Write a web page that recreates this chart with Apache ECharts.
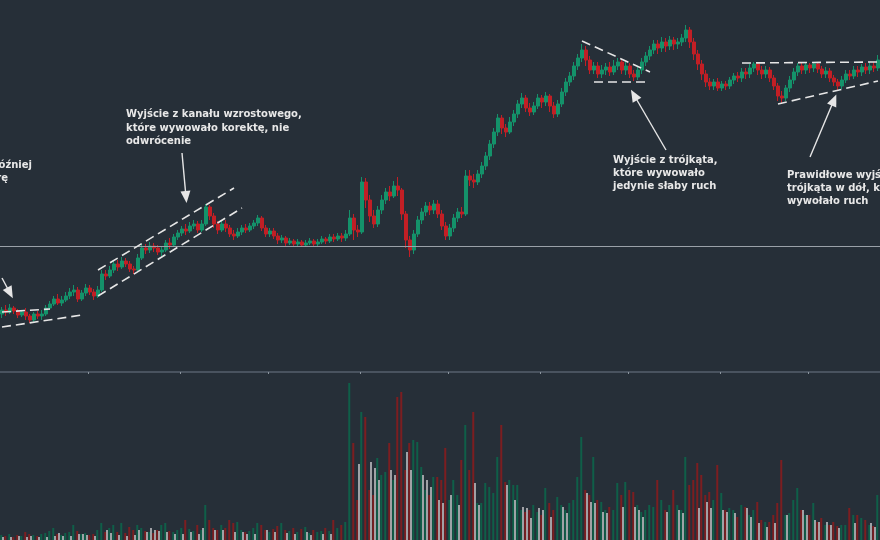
<!DOCTYPE html>
<html>
<head>
<meta charset="utf-8">
<script src="https://cdn.jsdelivr.net/npm/echarts@6/dist/echarts.min.js"></script>
<style>html,body{margin:0;padding:0;background:#262f38;}#c{width:880px;height:540px;}</style>
</head>
<body>
<div id="c"></div>
<script>
// candles: [open, close, low, high]
const ohlc = [
[86,90,82,93],[90,88,84,95],[88,92,86,96],[92,89,86,94],[89,85,82,91],[85,88,83,90],[88,84,80,92],[84,80,77,86],[80,86,78,88],[86,84,81,89],
[84,86,80,90],[86,92,84,95],[92,96,90,99],[96,101,94,104],[101,97,95,106],[97,100,94,104],[100,104,98,108],[104,108,101,112],[108,110,104,115],[110,101,98,113],
[101,107,99,110],[107,112,104,116],[112,108,105,115],[108,104,100,111],[104,110,102,114],[110,126,108,130],[126,124,120,130],[124,130,122,134],[130,136,127,139],[136,133,129,140],
[133,139,131,143],[139,136,133,142],[136,131,128,139],[131,130,126,134],[130,142,129,146],[142,152,140,156],[152,150,146,156],[150,154,147,158],[154,152,148,157],[152,148,145,155],
[148,150,144,153],[150,157,148,160],[157,155,151,162],[155,163,153,166],[163,167,160,170],[167,171,164,174],[171,169,165,176],[169,174,167,178],[174,176,171,180],[176,170,167,179],
[170,176,168,180],[176,193,174,196],[193,184,180,195],[184,176,172,187],[176,170,166,179],[170,176,168,180],[176,172,168,180],[172,166,163,175],[166,164,160,170],[164,168,162,172],
[168,172,165,175],[172,170,167,176],[170,174,168,177],[174,177,171,180],[177,182,174,185],[182,172,169,184],[172,166,163,175],[166,169,163,172],[169,164,161,172],[164,160,156,167],
[160,162,157,165],[162,157,154,164],[157,159,155,162],[159,156,153,161],[156,158,154,161],[158,155,153,160],[155,157,153,160],[157,159,155,162],[159,156,154,161],[156,158,154,161],
[158,161,156,164],[161,159,156,163],[159,163,157,166],[163,161,158,166],[161,164,159,167],[164,162,158,167],[162,166,159,170],[166,182,164,190],[182,170,160,186],[170,168,163,175],
[168,218,166,223],[218,200,192,222],[200,184,178,205],[184,176,172,190],[176,190,173,194],[190,200,186,205],[200,208,196,212],[208,204,199,214],[204,214,202,219],[214,210,204,223],
[210,186,180,212],[186,160,152,189],[160,150,143,164],[150,166,146,170],[166,180,163,184],[180,188,176,192],[188,194,184,198],[194,190,185,198],[190,196,186,200],[196,186,182,200],
[186,174,170,190],[174,164,160,178],[164,172,160,176],[172,182,168,186],[182,188,178,192],[188,186,182,193],[186,224,184,230],[224,220,214,230],[220,218,212,226],[218,226,215,230],
[226,234,222,238],[234,244,230,248],[244,256,240,260],[256,268,252,272],[268,282,264,286],[282,272,266,285],[272,268,263,276],[268,278,266,283],[278,286,274,290],[286,296,282,300],
[296,302,292,307],[302,292,288,305],[292,288,284,297],[288,294,285,298],[294,302,291,306],[302,298,292,305],[298,304,294,308],[304,294,288,306],[294,286,282,298],[286,296,283,300],
[296,308,293,312],[308,318,304,322],[318,324,314,328],[324,334,320,338],[334,342,330,346],[342,350,338,356],[350,340,334,354],[340,330,326,344],[330,334,326,338],[334,326,322,338],
[326,330,322,335],[330,333,325,337],[333,328,324,338],[328,334,325,340],[334,338,330,342],[338,330,326,341],[330,334,325,338],[334,326,322,337],[326,323,319,330],[323,330,320,334],
[330,338,326,342],[338,344,334,348],[344,350,340,354],[350,356,346,360],[356,352,346,360],[352,358,348,363],[358,354,348,362],[354,360,350,364],[360,356,350,363],[356,358,351,362],
[358,362,354,366],[362,370,358,375],[370,358,352,373],[358,346,340,362],[346,336,330,350],[336,326,320,340],[326,318,313,330],[318,314,310,322],[314,318,310,321],[318,312,309,322],
[312,316,309,319],[316,314,310,319],[314,320,311,323],[320,324,316,327],[324,322,318,328],[322,328,318,332],[328,326,321,332],[326,332,322,336],[332,336,328,338],[336,330,325,338],
[330,326,321,334],[326,330,322,334],[330,322,318,333],[322,314,310,325],[314,304,299,317],[304,302,297,309],[302,312,299,315],[312,320,308,324],[320,328,316,332],[328,334,324,337],
[334,330,326,337],[330,335,326,338],[335,332,327,337],[332,336,328,338],[336,331,327,338],[331,326,322,334],[326,329,322,333],[329,322,318,332],[322,318,314,325],[318,314,310,321],
[314,320,311,324],[320,326,317,330],[326,324,320,330],[324,330,321,334],[330,328,323,334],[328,333,324,336],[333,330,326,337],[330,334,326,338],[334,332,328,338],[332,340,329,345]
];
const volume = [
5,4,6,3,5,4,8,6,5,4, 6,7,9,12,6,5,7,8,15,9, 6,7,5,6,10,17,8,12,15,8, 17,7,13,10,15,12,9,8,7,10,
15,17,9,8,10,12,20,11,9,15, 10,35,20,12,10,15,12,20,17,18, 10,8,9,12,17,15,10,8,11,14, 17,10,9,12,8,11,13,7,10,8,
9,12,9,20,12,15,18,157,97,40, 128,123,50,45,82,65,68,97,60,143, 148,70,97,100,98,73,50,45,63,63, 60,92,40,60,45,80,115,70,128,37,
37,57,53,47,83,115,58,60,55,55, 30,28,30,35,28,25,52,37,30,43, 35,30,37,40,63,103,50,45,83,40, 38,30,33,30,57,45,58,50,48,35,
28,30,35,33,60,40,30,35,50,35, 30,83,55,60,77,65,45,48,40,75, 47,30,32,30,23,35,33,25,30,38, 20,18,18,25,37,80,25,27,40,52,
30,25,25,37,18,22,15,15,18,14, 15,15,32,25,25,22,20,15,14,45
];
const volumeAlt = [
3,0,3,0,4,0,3,4,0,3, 0,3,0,4,7,4,0,4,0,6, 6,5,0,4,0,0,10,7,0,5, 0,4,0,5,10,0,8,12,10,9,
0,8,0,6,0,6,0,8,0,6, 12,0,0,10,0,10,0,0,8,0, 8,6,0,6,0,0,10,0,8,0, 0,7,0,6,0,0,8,5,0,0,
6,0,6,0,0,0,0,0,0,76, 0,0,78,72,60,0,0,70,65,0, 0,88,70,0,0,65,60,53,0,40, 37,0,45,0,35,0,0,0,57,35,
0,0,0,0,0,0,55,0,40,0, 33,32,22,0,32,30,0,23,0,0, 33,27,0,0,0,0,47,38,37,0, 28,27,0,0,0,33,0,0,33,30,
23,0,0,0,0,0,28,0,0,30, 27,0,0,0,32,0,38,32,0,0, 30,28,0,27,0,0,32,23,0,17, 0,13,0,17,0,0,25,0,0,0,
30,25,0,20,18,0,18,15,0,12, 0,0,0,17,0,0,0,17,13,0
];
const refLevel = 154;
const categories = ohlc.map((d, i) => 'S' + (i + 1));
const tickIdx = [22, 45, 67, 90, 112, 135, 157, 180, 202];

const dashes = [
  [[0, 88], [12, 91]],
  [[0, 73], [20, 85]],
  [[24, 130], [58, 212]],
  [[24, 104], [60, 192]],
  [[145, 359], [162, 328]],
  [[148, 318], [161, 318]],
  [[185, 337], [219, 338]],
  [[194, 296], [219, 319]]
];
const arrows = [
  [[0, 122], [2, 107]],
  [[45, 247], [46, 203]],
  [[166, 250], [158, 305]],
  [[202, 243], [208, 300]]
];

const textColor = '#e8e8e8';
const font = 'bold 10px "DejaVu Sans", Verdana, sans-serif';

const markData = [{ yAxis: refLevel, symbol: 'none', lineStyle: { color: '#9aa1a8', width: 1, type: 'solid' } }];
dashes.forEach(d => markData.push([
  { coord: d[0], symbol: 'none', lineStyle: { color: '#e6e6e6', width: 1.6, type: [9, 5] } },
  { coord: d[1], symbol: 'none' }
]));
arrows.forEach(d => markData.push([
  { coord: d[0], symbol: 'none', lineStyle: { color: '#e6e6e6', width: 1.4, type: 'solid' } },
  { coord: d[1], symbol: 'triangle', symbolSize: [10, 12] }
]));

const chart = echarts.init(document.getElementById('c'), null, { renderer: 'canvas' });
chart.setOption({
  backgroundColor: '#262f38',
  animation: false,
  grid: [
    { left: 0, right: 0, top: 0, height: 372 },
    { left: 0, right: 0, top: 373, height: 167 }
  ],
  xAxis: [
    { type: 'category', data: categories, gridIndex: 0, boundaryGap: true,
      axisLine: { show: true, lineStyle: { color: '#56616c', width: 1.5 } },
      axisTick: { show: true, length: 2, interval: (i) => tickIdx.indexOf(i) >= 0, lineStyle: { color: '#8a949d' } },
      axisLabel: { show: false }, splitLine: { show: false } },
    { type: 'category', data: categories, gridIndex: 1, boundaryGap: true,
      axisLine: { show: false }, axisTick: { show: false }, axisLabel: { show: false }, splitLine: { show: false } }
  ],
  yAxis: [
    { type: 'value', gridIndex: 0, min: 28, max: 400, show: false, splitLine: { show: false } },
    { type: 'value', gridIndex: 1, min: 0, max: 167, show: false, splitLine: { show: false } }
  ],
  series: [
    { type: 'candlestick', xAxisIndex: 0, yAxisIndex: 0, data: ohlc, barWidth: 3,
      itemStyle: { color: '#14926a', color0: '#c21f25', borderColor: '#14926a', borderColor0: '#c21f25', borderWidth: 1 },
      markLine: { silent: true, animation: false, symbol: ['none', 'none'], label: { show: false }, emphasis: { disabled: true }, data: markData }
    },
    { type: 'bar', xAxisIndex: 1, yAxisIndex: 1, data: volume, barWidth: 2, barGap: '0%',
      itemStyle: { color: (p) => ohlc[p.dataIndex][1] >= ohlc[p.dataIndex][0] ? '#0f5f48' : '#7c1e20' } },
    { type: 'bar', xAxisIndex: 1, yAxisIndex: 1, data: volumeAlt, barWidth: 1.5,
      itemStyle: { color: '#c8c9cb' } }
  ],
  graphic: [
    { type: 'text', left: 126, top: 108, style: { text: 'Wyjście z kanału wzrostowego,\nktóre wywowało korektę, nie\nodwrócenie', font: font, fill: textColor, lineHeight: 13.5 } },
    { type: 'text', x: 32, y: 160, style: { text: 'Wybicie z konsolidacji, które później', font: font, fill: textColor, textAlign: 'right' } },
    { type: 'text', x: 8, y: 173, style: { text: 'wywołało silny ruch w górę', font: font, fill: textColor, textAlign: 'right' } },
    { type: 'text', left: 613, top: 154, style: { text: 'Wyjście z trójkąta,\nktóre wywowało\njedynie słaby ruch', font: font, fill: textColor, lineHeight: 13 } },
    { type: 'text', left: 787, top: 169, style: { text: 'Prawidłowe wyjście z\ntrójkąta w dół, które\nwywołało ruch', font: font, fill: textColor, lineHeight: 13 } }
  ]
});
</script>
</body>
</html>
